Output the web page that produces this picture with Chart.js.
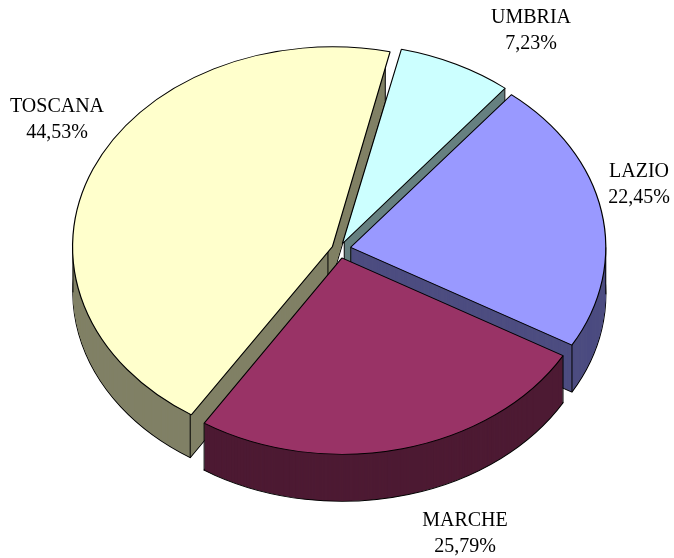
<!DOCTYPE html>
<html>
<head>
<meta charset="utf-8">
<script src="https://cdn.jsdelivr.net/npm/chart.js@4.4.1/dist/chart.umd.min.js"></script>
<style>
  html, body { margin: 0; padding: 0; background: #fff; }
</style>
</head>
<body>
<canvas id="myChart" width="674" height="558"></canvas>
<script>
// data
const regions = ['UMBRIA', 'LAZIO', 'MARCHE', 'TOSCANA'];
const shares = [7.23, 22.45, 25.79, 44.53];
const topColors = ['#CCFFFF', '#9999FF', '#993366', '#FFFFCC'];
const sideColors = ['#668080', '#4D4D80', '#4D1A33', '#808066'];
// label centres (px) for each region
const labelSpots = [[531, 18], [639, 172], [465, 521], [57, 107]];

const TILT = 0.77;   // vertical squash of the pie
const DEPTH = 47;    // thickness of the pie, px
const PULL = 12;     // how far slices are pulled out, px

const total = shares.reduce((a, b) => a + b, 0);

function fmt(v) {
    return v.toFixed(2).replace('.', ',') + '%';
}

// same shift ArcElement.draw applies for the offset option
function arcShift(arc) {
    const off = (arc.options.offset || 0) / 4;
    const circ = arc.endAngle - arc.startAngle;
    const fix = 1 - Math.sin(Math.min(Math.PI, circ));
    const half = (arc.startAngle + arc.endAngle) / 2;
    const d = off * (1 + fix);
    return [Math.cos(half) * d, Math.sin(half) * d];
}

const pie3d = {
    id: 'pie3d',
    beforeDatasetsDraw(chart) {
        const ctx = chart.ctx;
        const arcs = chart.getDatasetMeta(0).data;
        const cy = arcs[0].y;
        const base = cy * (1 - TILT);
        ctx.save();
        // side walls, stacked from the bottom up
        for (let d = DEPTH; d >= 1; d--) {
            ctx.setTransform(1, 0, 0, TILT, 0, base + d);
            arcs.forEach((arc, i) => {
                const [ox, oy] = arcShift(arc);
                ctx.beginPath();
                ctx.moveTo(arc.x + ox, arc.y + oy);
                ctx.arc(arc.x + ox, arc.y + oy, arc.outerRadius, arc.startAngle, arc.endAngle);
                ctx.closePath();
                ctx.fillStyle = sideColors[i];
                ctx.fill();
                if (d === DEPTH) {
                    ctx.strokeStyle = '#000';
                    ctx.lineWidth = 1.2;
                    ctx.stroke();
                }
            });
        }
        // vertical edges
        ctx.setTransform(1, 0, 0, 1, 0, 0);
        ctx.strokeStyle = '#000';
        ctx.lineWidth = 1;
        arcs.forEach((arc) => {
            const [ox, oy] = arcShift(arc);
            const x0 = arc.x + ox, y0 = arc.y + oy;
            const angs = [arc.startAngle, arc.endAngle];
            [0, Math.PI, 2 * Math.PI].forEach(a => {
                if (a > arc.startAngle && a < arc.endAngle) angs.push(a);
            });
            const pts = angs.map(a => [x0 + arc.outerRadius * Math.cos(a), y0 + arc.outerRadius * Math.sin(a)]);
            pts.push([x0, y0]);
            pts.forEach(([px, py]) => {
                const sx = px;
                const sy = cy + (py - cy) * TILT;
                ctx.beginPath();
                ctx.moveTo(sx, sy);
                ctx.lineTo(sx, sy + DEPTH);
                ctx.stroke();
            });
        });
        // squash the top face drawn by Chart.js
        ctx.setTransform(1, 0, 0, TILT, 0, base);
    },
    afterDatasetsDraw(chart) {
        chart.ctx.restore();
    },
    afterDraw(chart) {
        const ctx = chart.ctx;
        ctx.save();
        ctx.font = '20px "Liberation Serif", "Times New Roman", serif';
        ctx.textAlign = 'center';
        ctx.textBaseline = 'middle';
        ctx.fillStyle = '#000';
        regions.forEach((r, i) => {
            const [x, y] = labelSpots[i];
            ctx.fillText(r, x, y);
            ctx.fillText(fmt(shares[i]), x, y + 26);
        });
        ctx.restore();
    }
};

new Chart('myChart', {
    type: 'pie',
    data: {
        labels: regions,
        datasets: [{
            data: shares,
            backgroundColor: topColors,
            borderColor: '#000',
            borderWidth: 1.2,
            clip: false,
            offset: (c) => {
                if (c.type !== 'data') return 0;
                const circ = shares[c.dataIndex] / total * 2 * Math.PI;
                const fix = 1 - Math.sin(Math.min(Math.PI, circ));
                return 4 * PULL / (1 + fix);
            }
        }]
    },
    options: {
        responsive: false,
        animation: false,
        events: [],
        rotation: 13,
        radius: 255,
        layout: { padding: { left: 4, right: 0, top: 0, bottom: 60 } },
        plugins: {
            legend: { display: false },
            tooltip: { enabled: false }
        }
    },
    plugins: [pie3d]
});
</script>
</body>
</html>
